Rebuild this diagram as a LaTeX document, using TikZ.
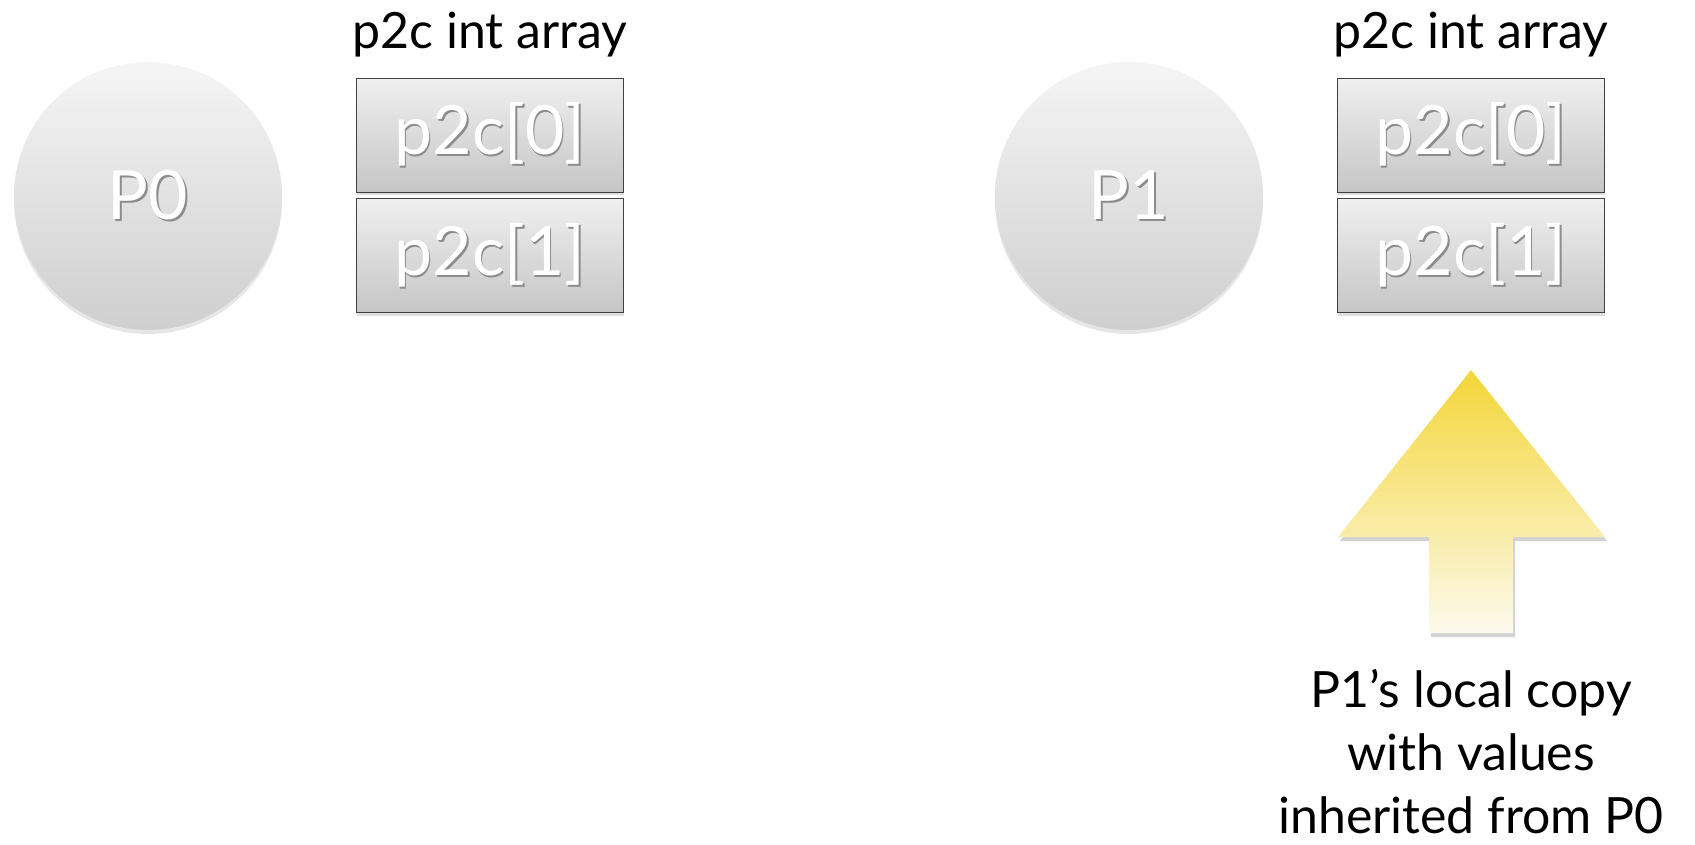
\documentclass[tikz,border=0pt]{standalone}
\usepackage{fontspec}
\setmainfont{Lato}
\usetikzlibrary{positioning,shadows}

\definecolor{arrowtop}{RGB}{244,214,56}
\definecolor{arrowbot}{RGB}{252,250,238}

\tikzset{
  proc/.style={circle, minimum size=268pt, inner sep=0pt, top color=gray!8, bottom color=gray!38,
    drop shadow={opacity=0.2, shadow xshift=0pt, shadow yshift=-4pt}, font=\fontsize{68}{70}\selectfont},
  cell/.style={rectangle, draw=black!75, line width=0.8pt, minimum width=267pt, minimum height=114pt,
    inner sep=0pt, top color=gray!12, bottom color=gray!45,
    drop shadow={opacity=0.25, shadow xshift=0pt, shadow yshift=-3pt}, font=\fontsize{68}{70}\selectfont},
  lbl/.style={font=\fontsize{50}{54}\selectfont, inner sep=0pt},
  note/.style={font=\fontsize{50}{63}\selectfont, align=center, inner sep=0pt},
  bigarrow/.style={top color=arrowtop, bottom color=arrowbot,
    drop shadow={opacity=0.35, shadow xshift=2pt, shadow yshift=-4pt}}
}
\newcommand{\glow}[1]{\rlap{\textcolor{black!45}{\hspace{1.5pt}\raisebox{-2pt}{#1}}}\textcolor{white}{#1}}

\begin{document}
\begin{tikzpicture}[x=1pt,y=-1pt]
\useasboundingbox (0,0) rectangle (1695,844);

% process P0 and its array
\node[proc] (p0) at (148,196) {\glow{P0}};
\node[cell] (a0) at (490,135) {\glow{p2c[0]}};
\node[cell, below=6pt of a0] (a1) {\glow{p2c[1]}};
\node[lbl, above=20pt of a0] (t0) {p2c int array};

% process P1 and its local copy
\node[proc] (p1) at (1129,196) {\glow{P1}};
\node[cell] (b0) at (1471,135) {\glow{p2c[0]}};
\node[cell, below=6pt of b0] (b1) {\glow{p2c[1]}};
\node[lbl, above=20pt of b0] (t1) {p2c int array};

% arrow pointing at the copy
\coordinate (tip) at (1471,370);
\shade[bigarrow] (tip) -- (1605,537) -- (1513,537) -- (1513,633) -- (1429,633) -- (1429,537) -- (1338,537) -- cycle;

\node[note] (copy) at (1471,752) {P1’s local copy\\with values\\inherited from P0};
\end{tikzpicture}
\end{document}
